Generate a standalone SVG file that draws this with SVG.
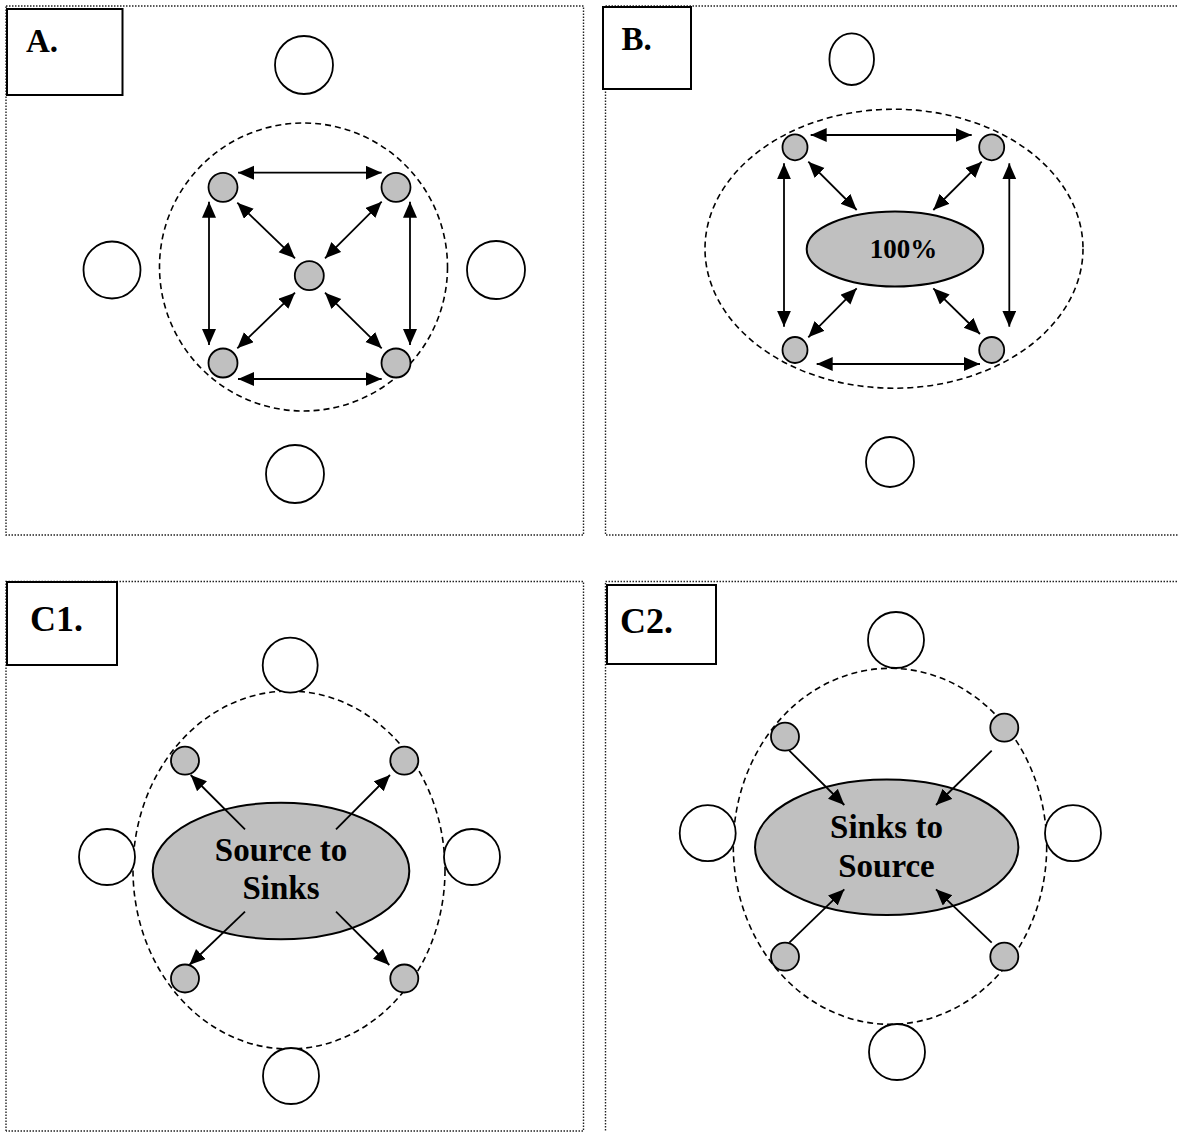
<svg xmlns="http://www.w3.org/2000/svg" width="1178" height="1132" viewBox="0 0 1178 1132">
<defs>
<marker id="ah" markerUnits="userSpaceOnUse" markerWidth="18" markerHeight="16" refX="16" refY="7" orient="auto-start-reverse"><path d="M0,0 L16,7 L0,14 z" fill="#000"/></marker>
<style>
.frame{fill:none;stroke:#222;stroke-width:1.4;stroke-dasharray:1.5 1.5}
.lbox{fill:#fff;stroke:#000;stroke-width:2}
.lbl{font-weight:bold;fill:#000}
.ext{fill:#fff;stroke:#000;stroke-width:1.8}
.dash{fill:none;stroke:#000;stroke-width:1.6;stroke-dasharray:6 4}
.sm{fill:#c0c0c0;stroke:#000;stroke-width:1.8}
.big{fill:#c0c0c0;stroke:#000;stroke-width:2}
.t{font-weight:bold;fill:#000;text-anchor:middle}
.bi{stroke:#000;stroke-width:1.8;fill:none;marker-start:url(#ah);marker-end:url(#ah)}
.uni{stroke:#000;stroke-width:1.8;fill:none;marker-end:url(#ah)}
</style>
</defs>
<rect width="1178" height="1132" fill="#fff"/>
<g id="frames">
<rect class="frame" x="6" y="6" width="577.5" height="529"/>
<path class="frame" d="M1180,6 H605.5 V535 H1180"/>
<path class="frame" d="M6,1131 V581.5 H583.5 V1131 H6"/>
<path class="frame" d="M1180,581.5 H605.5 V1134"/>
</g>
<g font-family="Liberation Serif, Times New Roman, serif">
<g id="panelA">
<g id="labelA"><rect class="lbox" x="7" y="9" width="115.5" height="86"/><text class="lbl" x="26" y="52" font-size="33">A.</text></g>
<circle class="dash" cx="303.5" cy="267" r="144"/>
<circle id="A-top" class="ext" cx="304" cy="65" r="29"/>
<circle id="A-left" class="ext" cx="112" cy="270" r="28.5"/>
<circle id="A-right" class="ext" cx="496" cy="270" r="29"/>
<circle id="A-bottom" class="ext" cx="295" cy="474" r="29"/>
<circle id="A-tl" class="sm" cx="223" cy="187.3" r="14.5"/>
<circle id="A-tr" class="sm" cx="396" cy="187.3" r="14.5"/>
<circle id="A-c" class="sm" cx="309.3" cy="275.7" r="14.5"/>
<circle id="A-bl" class="sm" cx="223" cy="363" r="14.5"/>
<circle id="A-br" class="sm" cx="396" cy="363" r="14.5"/>
</g>
<g id="panelB">
<g id="labelB"><rect class="lbox" x="603" y="7" width="88" height="82"/><text class="lbl" x="621.5" y="50" font-size="33">B.</text></g>
<ellipse class="dash" cx="894" cy="248.7" rx="189" ry="139.5"/>
<ellipse id="B-top" class="ext" cx="851.7" cy="59.2" rx="22.3" ry="25.8"/>
<ellipse id="B-bottom" class="ext" cx="890" cy="462" rx="24" ry="25"/>
<ellipse id="B-tl" class="sm" cx="795" cy="147.3" rx="12.5" ry="13"/>
<ellipse id="B-tr" class="sm" cx="991.7" cy="147.3" rx="12.5" ry="13"/>
<ellipse id="B-bl" class="sm" cx="795" cy="350" rx="12.5" ry="13"/>
<ellipse id="B-br" class="sm" cx="991.7" cy="350" rx="12.5" ry="13"/>
<g id="B-center"><ellipse class="big" cx="895" cy="249" rx="88.3" ry="37.5"/><text class="t" x="903.5" y="257.5" font-size="27">100%</text></g>
</g>
<g id="panelC1">
<g id="labelC1"><rect class="lbox" x="7" y="582" width="110" height="83"/><text class="lbl" x="30" y="631" font-size="36">C1.</text></g>
<ellipse class="dash" cx="289" cy="870" rx="156" ry="179"/>
<circle id="C1-top" class="ext" cx="290.2" cy="665.2" r="27.5"/>
<circle id="C1-left" class="ext" cx="107" cy="857" r="28"/>
<circle id="C1-right" class="ext" cx="472" cy="857" r="28"/>
<circle id="C1-bottom" class="ext" cx="291" cy="1076" r="28"/>
<circle id="C1-tl" class="sm" cx="185" cy="760.7" r="14"/>
<circle id="C1-tr" class="sm" cx="404.3" cy="760.7" r="14"/>
<circle id="C1-bl" class="sm" cx="185" cy="978.5" r="14"/>
<circle id="C1-br" class="sm" cx="404.3" cy="978.5" r="14"/>
<g id="C1-center"><ellipse class="big" cx="281" cy="871" rx="128.3" ry="68.3"/><text class="t" x="281" y="860.7" font-size="33">Source to</text><text class="t" x="281" y="899.3" font-size="33">Sinks</text></g>
</g>
<g id="panelC2">
<g id="labelC2"><rect class="lbox" x="607" y="585" width="109" height="79"/><text class="lbl" x="620" y="633" font-size="36">C2.</text></g>
<ellipse class="dash" cx="890" cy="846.3" rx="156.7" ry="178"/>
<circle id="C2-top" class="ext" cx="896" cy="640" r="28"/>
<circle id="C2-left" class="ext" cx="707.7" cy="833.2" r="28"/>
<circle id="C2-right" class="ext" cx="1073" cy="833.2" r="28"/>
<circle id="C2-bottom" class="ext" cx="897" cy="1052" r="28"/>
<circle id="C2-tl" class="sm" cx="785" cy="736.7" r="14"/>
<circle id="C2-tr" class="sm" cx="1004.3" cy="727.7" r="14"/>
<circle id="C2-bl" class="sm" cx="785" cy="956.7" r="14"/>
<circle id="C2-br" class="sm" cx="1004.3" cy="956.7" r="14"/>
<g id="C2-center"><ellipse class="big" cx="886.7" cy="847.2" rx="131.7" ry="67.8"/><text class="t" x="886.5" y="838.3" font-size="33">Sinks to</text><text class="t" x="886.5" y="876.7" font-size="33">Source</text></g>
</g>
</g>
<g id="connectors">
<line class="bi" x1="238" y1="172.7" x2="381.7" y2="172.7"/>
<line class="bi" x1="238" y1="379" x2="381.7" y2="379"/>
<line class="bi" x1="209" y1="201.7" x2="209" y2="345"/>
<line class="bi" x1="410" y1="201.7" x2="410" y2="345"/>
<line class="bi" x1="237.3" y1="202.7" x2="295" y2="258.3"/>
<line class="bi" x1="381.7" y1="201.7" x2="325" y2="258.3"/>
<line class="bi" x1="295" y1="292.7" x2="237.3" y2="348.3"/>
<line class="bi" x1="325" y1="292.7" x2="381.7" y2="348.3"/>
<line class="bi" x1="810.7" y1="135" x2="971.7" y2="135"/>
<line class="bi" x1="816.7" y1="364" x2="980" y2="364"/>
<line class="bi" x1="784" y1="163.3" x2="784" y2="326.7"/>
<line class="bi" x1="1009.3" y1="163.3" x2="1009.3" y2="326.7"/>
<line class="bi" x1="808.3" y1="161.7" x2="856.7" y2="210"/>
<line class="bi" x1="981.7" y1="161.7" x2="933.3" y2="210"/>
<line class="bi" x1="856.7" y1="288.3" x2="808.3" y2="337.3"/>
<line class="bi" x1="933.3" y1="288.3" x2="980" y2="334"/>
<line class="uni" x1="245" y1="829.3" x2="190.7" y2="775"/>
<line class="uni" x1="336" y1="829.3" x2="390" y2="775"/>
<line class="uni" x1="245" y1="911.7" x2="189.3" y2="965"/>
<line class="uni" x1="336" y1="911.7" x2="389.3" y2="965"/>
<line class="uni" x1="789.3" y1="750.7" x2="844.3" y2="805"/>
<line class="uni" x1="991.7" y1="750.7" x2="936" y2="805"/>
<line class="uni" x1="789.3" y1="942.7" x2="844.3" y2="889.3"/>
<line class="uni" x1="991.7" y1="942.7" x2="936" y2="889.3"/>
</g>
</svg>
